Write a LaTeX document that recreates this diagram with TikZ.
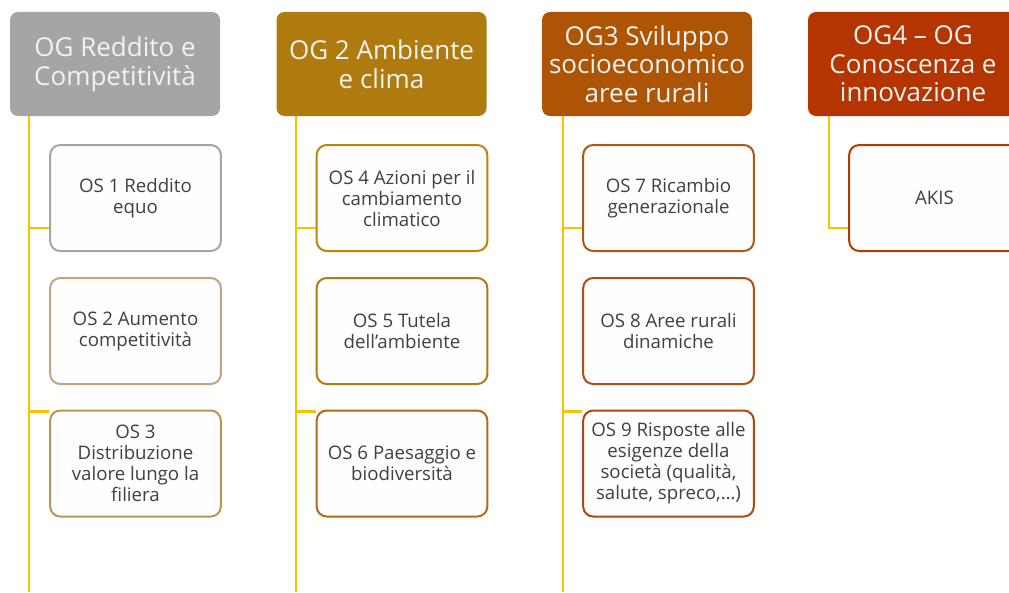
\documentclass[tikz,border=0pt]{standalone}
\usepackage{fontspec}
\setmainfont{Open Sans}
\usepackage{xcolor}
\usetikzlibrary{backgrounds}

\definecolor{trunkgold}{HTML}{FFC000}
\definecolor{txtgray}{HTML}{404040}
\definecolor{hdrtext}{HTML}{F2F2F2}
\definecolor{ogone}{HTML}{A5A5A5}
\definecolor{ogtwo}{HTML}{AF7B0E}
\definecolor{ogthree}{HTML}{AD5504}
\definecolor{ogfour}{HTML}{B43500}
\definecolor{osone}{HTML}{A5A5A5}
\definecolor{ostwo}{HTML}{BCA77E}
\definecolor{osthree}{HTML}{B9964F}
\definecolor{osfour}{HTML}{B8860B}
\definecolor{osfive}{HTML}{B6790F}
\definecolor{ossix}{HTML}{B46A14}
\definecolor{osseven}{HTML}{B0580F}
\definecolor{oseight}{HTML}{B04F0F}
\definecolor{osnine}{HTML}{B24512}
\definecolor{osakis}{HTML}{B53A06}

\begin{document}
\begin{tikzpicture}[x=0.75pt, y=-0.75pt,
  ogbox/.style={fill=#1, rounded corners=6pt, minimum width=157.5pt, minimum height=78pt,
    inner sep=0pt, align=center, text=hdrtext, font=\fontsize{19.5}{21.5}\selectfont},
  osbox/.style={draw=#1, fill=white!99!gray, line width=1.5pt, rounded corners=7.5pt,
    minimum width=128pt, minimum height=79.5pt, inner sep=0pt, align=center,
    text=txtgray, font=\fontsize{14}{15.75}\selectfont},
  trunk/.style={draw=trunkgold, line width=2pt}]
\useasboundingbox (0,0) rectangle (1009,592);
\clip (0,0) rectangle (1009,592);  % OG4 esce a destra

% obiettivi generali
\node[ogbox=ogone]   (og1) at (115,64)   {OG Reddito e\\Competitività};
\node[ogbox=ogtwo]   (og2) at (381.5,64) {OG 2 Ambiente\\e clima};
\node[ogbox=ogthree] (og3) at (647,64)   {OG3 Sviluppo\\socioeconomico\\aree rurali};
\node[ogbox=ogfour]  (og4) at (913,64)   {OG4 -- OG\\Conoscenza e\\innovazione};

% obiettivi specifici
\node[osbox=osone]   (os1) at (135.5,198)   {OS 1 Reddito\\equo};
\node[osbox=ostwo]   (os2) at (135.5,331)   {OS 2 Aumento\\competitività};
\node[osbox=osthree] (os3) at (135.5,463.5) {OS 3\\Distribuzione\\valore lungo la\\filiera};
\node[osbox=osfour]  (os4) at (402,198)     {OS 4 Azioni per il\\cambiamento\\climatico};
\node[osbox=osfive]  (os5) at (402,331)     {OS 5 Tutela\\dell’ambiente};
\node[osbox=ossix]   (os6) at (402,463.5)   {OS 6 Paesaggio e\\biodiversità};
\node[osbox=osseven] (os7) at (668.5,198)   {OS 7 Ricambio\\generazionale};
\node[osbox=oseight] (os8) at (668.5,331)   {OS 8 Aree rurali\\dinamiche};
\node[osbox=osnine]  (os9) at (668.5,463.5) {OS 9 Risposte alle\\esigenze della\\società (qualità,\\salute, spreco,…)};
\node[osbox=osakis]  (akis) at (934.5,198)  {AKIS};

% punti di attacco sulle linee verticali
\coordinate (end1) at (29,592);
\coordinate (end2) at (296,592);
\coordinate (end3) at (563,592);
\coordinate (end4) at (829,228);

\begin{scope}[on background layer]
\draw[trunk] (og1.south -| end1) -- (end1);
\draw[trunk] (og2.south -| end2) -- (end2);
\draw[trunk] (og3.south -| end3) -- (end3);
\draw[trunk] (og4.south -| end4) -- (end4) -- (end4 -| akis.west);
\draw[trunk] (end1 |- end4) -- (end4 -| os1.west);
\draw[trunk] (end2 |- end4) -- (end4 -| os4.west);
\draw[trunk] (end3 |- end4) -- (end4 -| os7.west);
\draw[trunk] (os3.north west -| end1) ++(0,2) -- ([yshift=-1.5pt]os3.north west);  % quasi sul bordo
\draw[trunk] (os6.north west -| end2) ++(0,2) -- ([yshift=-1.5pt]os6.north west);
\draw[trunk] (os9.north west -| end3) ++(0,2) -- ([yshift=-1.5pt]os9.north west);
\end{scope}
\end{tikzpicture}
\end{document}
